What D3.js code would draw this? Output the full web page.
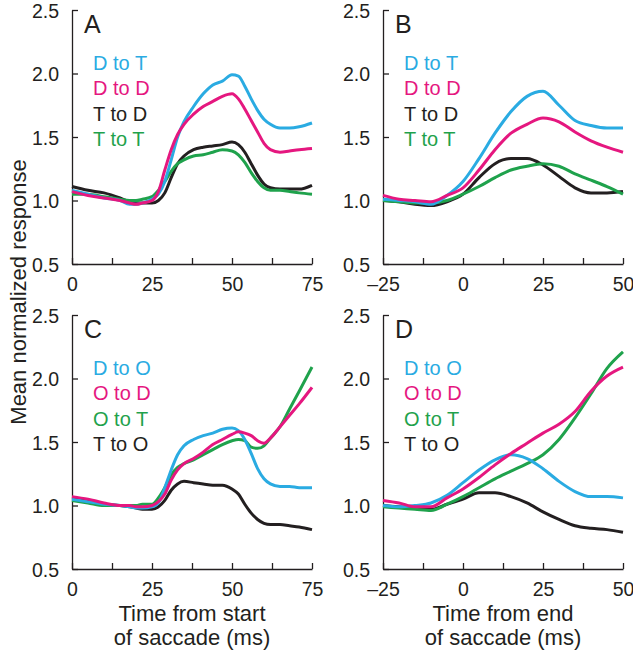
<!DOCTYPE html>
<html>
<head>
<meta charset="utf-8">
<script src="https://cdn.jsdelivr.net/npm/d3@7/dist/d3.min.js"></script>
<style>
  body { margin: 0; background: #fff; }
  text { font-family: "Liberation Sans", Arial, Helvetica, sans-serif; fill: #231f20; }
</style>
</head>
<body>
<svg id="chart" width="633" height="652"></svg>
<script>
// time points (ms)
var timeStart = [0,5,10,15,18,20,22,25,27,29,31,33,35,38,41,44,47,50,52,54,56,58,60,62,65,68,71,75];
var timeEnd = [-25,-20,-15,-10,-5,0,5,10,15,20,25,30,35,40,45,50];

// A - aligned on start of saccade
var aDtoT = [1.08,1.05,1.02,1.0,0.97,0.97,0.98,1.01,1.05,1.15,1.32,1.50,1.62,1.74,1.84,1.91,1.94,1.99,1.98,1.90,1.80,1.71,1.64,1.60,1.57,1.57,1.58,1.61];
var aDtoD = [1.07,1.04,1.02,1.0,0.98,0.97,0.98,1.0,1.07,1.24,1.40,1.52,1.60,1.68,1.74,1.78,1.82,1.84,1.80,1.72,1.63,1.54,1.45,1.40,1.38,1.39,1.40,1.41];
var aTtoD = [1.11,1.08,1.06,1.02,0.99,0.98,0.98,0.98,1.0,1.06,1.18,1.29,1.35,1.40,1.42,1.43,1.44,1.46,1.44,1.38,1.29,1.20,1.13,1.10,1.09,1.09,1.09,1.12];
var aTtoT = [1.05,1.05,1.03,1.01,1.0,1.0,1.01,1.03,1.08,1.15,1.23,1.29,1.32,1.35,1.36,1.38,1.40,1.39,1.36,1.30,1.22,1.15,1.10,1.08,1.08,1.07,1.06,1.05];

// B - aligned on end of saccade
var bDtoT = [1.01,1.0,0.99,0.97,1.04,1.15,1.33,1.53,1.70,1.82,1.86,1.75,1.63,1.59,1.57,1.57];
var bDtoD = [1.04,1.01,1.0,0.99,1.04,1.10,1.24,1.40,1.53,1.60,1.65,1.62,1.54,1.47,1.42,1.38];
var bTtoD = [1.0,0.99,0.97,0.96,0.99,1.05,1.18,1.29,1.33,1.33,1.28,1.19,1.10,1.06,1.06,1.07];
var bTtoT = [1.0,0.99,0.98,0.98,1.0,1.05,1.11,1.18,1.24,1.27,1.29,1.27,1.21,1.16,1.11,1.05];

// C - aligned on start of saccade
var cDtoO = [1.05,1.03,1.01,1.0,0.99,0.98,0.98,0.99,1.02,1.14,1.28,1.40,1.47,1.52,1.55,1.57,1.60,1.61,1.59,1.52,1.41,1.29,1.21,1.17,1.15,1.15,1.14,1.14];
var cOtoD = [1.07,1.05,1.02,1.0,1.0,0.99,0.99,1.0,1.03,1.09,1.20,1.28,1.33,1.37,1.42,1.48,1.52,1.56,1.58,1.57,1.55,1.51,1.49,1.53,1.62,1.71,1.80,1.93];
var cOtoT = [1.04,1.02,1.0,1.0,1.0,1.0,1.01,1.01,1.06,1.14,1.24,1.30,1.33,1.36,1.40,1.44,1.48,1.51,1.52,1.51,1.46,1.45,1.47,1.53,1.62,1.76,1.90,2.09];
var cTtoO = [1.06,1.04,1.01,1.0,0.99,0.98,0.97,0.97,0.99,1.04,1.12,1.17,1.19,1.18,1.17,1.16,1.16,1.13,1.09,1.01,0.94,0.89,0.86,0.85,0.85,0.84,0.83,0.81];

// D - aligned on end of saccade
var dDtoO = [1.0,0.99,1.0,1.02,1.08,1.18,1.28,1.36,1.40,1.37,1.29,1.19,1.11,1.07,1.07,1.06];
var dOtoD = [1.04,1.02,0.99,0.99,1.06,1.13,1.22,1.32,1.41,1.49,1.57,1.64,1.74,1.90,2.02,2.09];
var dOtoT = [0.99,0.98,0.97,0.96,1.01,1.07,1.14,1.21,1.27,1.33,1.40,1.52,1.69,1.88,2.08,2.21];
var dTtoO = [1.0,0.99,0.98,0.97,1.01,1.05,1.10,1.10,1.07,1.02,0.95,0.89,0.84,0.82,0.81,0.79];

var yTicks = [0.5,1.0,1.5,2.0,2.5];
var startTicks = [0,25,50,75];
var endTicks = [-25,0,25,50];

var cyan = '#2aabe2', magenta = '#e5177f', green = '#1fa24c', black = '#231f20';

var panels = [
  {letter:'A', left:72, top:10, t:timeStart, ticks:startTicks,
   series:[{name:'D to T', v:aDtoT, c:cyan},{name:'D to D', v:aDtoD, c:magenta},{name:'T to D', v:aTtoD, c:black},{name:'T to T', v:aTtoT, c:green}]},
  {letter:'B', left:383, top:10, t:timeEnd, ticks:endTicks,
   series:[{name:'D to T', v:bDtoT, c:cyan},{name:'D to D', v:bDtoD, c:magenta},{name:'T to D', v:bTtoD, c:black},{name:'T to T', v:bTtoT, c:green}]},
  {letter:'C', left:72, top:315, t:timeStart, ticks:startTicks, xlabel:['Time from start','of saccade (ms)'],
   series:[{name:'D to O', v:cDtoO, c:cyan},{name:'O to D', v:cOtoD, c:magenta},{name:'O to T', v:cOtoT, c:green},{name:'T to O', v:cTtoO, c:black}]},
  {letter:'D', left:383, top:315, t:timeEnd, ticks:endTicks, xlabel:['Time from end','of saccade (ms)'],
   series:[{name:'D to O', v:dDtoO, c:cyan},{name:'O to D', v:dOtoD, c:magenta},{name:'O to T', v:dOtoT, c:green},{name:'T to O', v:dTtoO, c:black}]}
];

var pw = 240, ph = 254;
var svg = d3.select('#chart');
var drawOrder = [black, green, cyan, magenta];

panels.forEach(function(p) {
  var ext = d3.extent(p.ticks);
  var x = d3.scaleLinear().domain(ext).range([0, pw]);
  var y = d3.scaleLinear().domain([0.5, 2.5]).range([ph, 0]);
  var g = svg.append('g').attr('transform', 'translate(' + p.left + ',' + p.top + ')');

  // x axis: ticks every 12.5 ms, labels every 25
  var minor = d3.range(ext[0], ext[1] + 0.1, 12.5);
  var xa = g.append('g').attr('transform', 'translate(0,' + ph + ')')
    .call(d3.axisBottom(x).tickValues(minor).tickSizeInner(-6).tickSizeOuter(0).tickPadding(12)
      .tickFormat(function(d) { return p.ticks.indexOf(d) >= 0 ? String(d).replace('-', '\u2013') : ''; }));
  var ya = g.append('g')
    .call(d3.axisLeft(y).tickValues(yTicks).tickSizeInner(-6).tickSizeOuter(0).tickPadding(13)
      .tickFormat(d3.format('.1f')));
  [xa, ya].forEach(function(a) {
    a.select('.domain').attr('stroke', '#231f20').attr('stroke-width', 1.3);
    a.selectAll('.tick line').attr('stroke', '#231f20').attr('stroke-width', 1.3);
    a.selectAll('text').style('font-size', '19.5px').attr('fill', '#231f20');
  });
  xa.selectAll('text').attr('dy', '0.71em').attr('y', 13);
  ya.selectAll('text').attr('dy', '0.36em');

  var line = d3.line()
    .x(function(d, i) { return x(p.t[i]); })
    .y(function(d) { return y(d); })
    .curve(d3.curveMonotoneX);

  var ordered = p.series.slice().sort(function(a, b) { return drawOrder.indexOf(a.c) - drawOrder.indexOf(b.c); });
  g.selectAll('path.series').data(ordered).enter().append('path')
    .attr('class', 'series')
    .attr('d', function(s) { return line(s.v); })
    .attr('fill', 'none')
    .attr('stroke', function(s) { return s.c; })
    .attr('stroke-width', 3)
    .attr('stroke-linejoin', 'round');

  g.append('text').attr('x', 12).attr('y', 23).style('font-size', '25px').text(p.letter);

  g.selectAll('text.leg').data(p.series).enter().append('text')
    .attr('class', 'leg')
    .attr('x', 21)
    .attr('y', function(s, i) { return 59.5 + i * 25.5; })
    .style('font-size', '20px')
    .style('fill', function(s) { return s.c; })
    .text(function(s) { return s.name; });

  if (p.xlabel) {
    g.selectAll('text.xl').data(p.xlabel).enter().append('text')
      .attr('class', 'xl')
      .attr('x', pw / 2)
      .attr('y', function(d, i) { return ph + 51.5 + i * 24.5; })
      .attr('text-anchor', 'middle')
      .style('font-size', '22px')
      .text(function(d) { return d; });
  }
});

svg.append('text')
  .attr('transform', 'translate(26,292) rotate(-90)')
  .attr('text-anchor', 'middle')
  .style('font-size', '22px')
  .text('Mean normalized response');
</script>
</body>
</html>
